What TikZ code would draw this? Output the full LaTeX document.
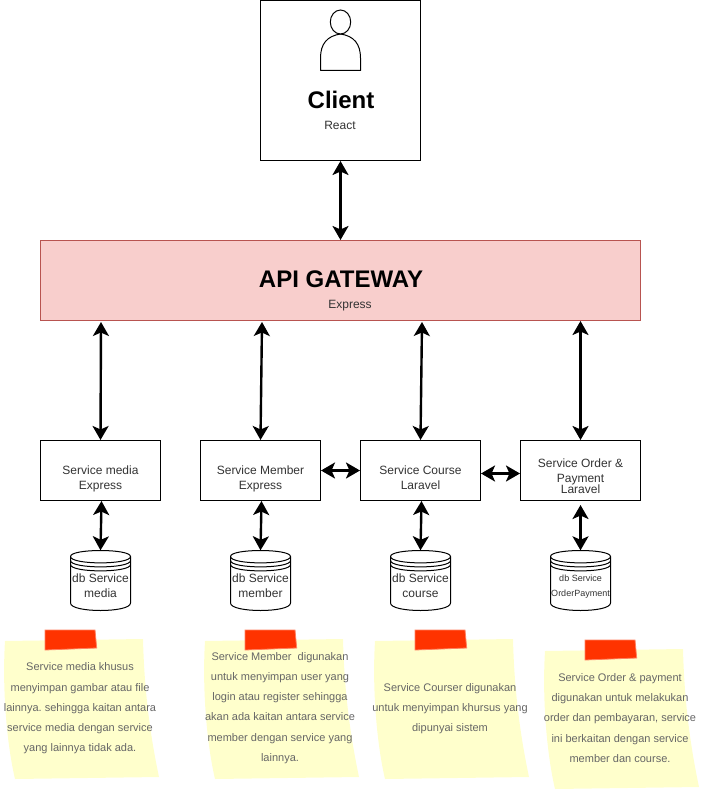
\documentclass[tikz,border=0pt]{standalone}
\usepackage{fontspec}
\setmainfont{Liberation Sans}
\usetikzlibrary{arrows.meta}
\frenchspacing
\definecolor{gwfill}{HTML}{F8CECC}
\definecolor{gwline}{HTML}{B85450}
\definecolor{notefill}{HTML}{FFFFCC}
\definecolor{tapefill}{HTML}{FF3300}
\definecolor{tapeline}{HTML}{FF8060}
\definecolor{notetxt}{HTML}{666666}
\definecolor{softtxt}{HTML}{333333}
\newcommand{\fsz}[2]{\fontsize{#1}{#2}\selectfont}
\tikzset{
  x=1pt,y=-1pt,
  boxshape/.style={draw=black,line width=1pt,fill=white,rectangle,inner sep=0pt,align=center},
  svcbox/.style={boxshape,minimum width=120pt,minimum height=60pt},
  svctext/.style={inner sep=0pt,align=center,text=softtxt,font=\fsz{12}{15}},
  dbnode/.style={inner sep=0pt,minimum width=60pt,minimum height=60pt},
  dual/.style={line width=2.4pt,{Stealth[length=14pt,width=16pt,inset=3.5pt]}-{Stealth[length=14pt,width=16pt,inset=3.5pt]}},
  notebody/.style={fill=notefill,draw=none},
  tape/.style={fill=tapefill,draw=tapeline,line width=.8pt},
  notetext/.style={inner sep=0pt,align=center,text=notetxt,font=\fsz{11}{20.25}},
}
\newcommand{\dbcyl}[1]{%
  \begin{scope}[xshift=#1pt]
  \draw[line width=1pt,fill=white,line join=round]
    (70.5,556.5) .. controls (70.5,548.5) and (130.5,548.5) .. (130.5,556.5)
    -- (130.5,603) .. controls (130.5,613) and (70.5,613) .. (70.5,603) -- cycle;
  \draw[line width=1pt] (70.5,556.5) .. controls (70.5,565) and (130.5,565) .. (130.5,556.5);
  \draw[line width=1pt] (70.5,560.5) .. controls (70.5,569) and (130.5,569) .. (130.5,560.5);
  \draw[line width=1pt] (70.5,564.5) .. controls (70.5,573) and (130.5,573) .. (130.5,564.5);
  \end{scope}}
\newcommand{\stickynote}[2]{%
  \begin{scope}[xshift=#1pt,yshift=-#2pt]
  \fill[notebody] (5,641) -- (143,639)
    .. controls (144,680) and (148,725) .. (159,777)
    -- (15,779) .. controls (7,745) and (2,690) .. (5,641) -- cycle;
  \filldraw[tape] (45,630) -- (95,630) -- (96.7,648) -- (45,650) -- cycle;
  \end{scope}}
\begin{document}
\begin{tikzpicture}
\useasboundingbox (0,0) rectangle (701,791);
% client
\node[boxshape,minimum width=160pt,minimum height=160pt] (client) at (340.5,80.5) {};
\draw[line width=1pt,fill=white,line join=round] (320.5,70.5) -- (320.5,58)
  .. controls (320.5,44) and (327,36) .. (340.5,34)
  .. controls (354,36) and (360.5,44) .. (360.5,58) -- (360.5,70.5) -- cycle;
\draw[line width=1pt,fill=white] (340.5,22) ellipse [x radius=10.2,y radius=12];
\node[inner sep=0pt,font=\fsz{24}{28}\bfseries] (clientname) at (341,99.5) {Client};
\node[svctext] (clienttech) at (340,125) {React};
% gateway
\node[rectangle,draw=gwline,fill=gwfill,line width=1pt,minimum width=600pt,minimum height=80pt,inner sep=0pt] (gw) at (340.5,280.5) {};
\node[inner sep=0pt,font=\fsz{24}{28}\bfseries] (gwname) at (341,279) {API GATEWAY};
\node[svctext] (gwtech) at (350,305.5) {Express};
% services
\node[svcbox,label={[svctext,yshift=-8pt]center:Service media\\Express}] (s1) at (100.5,470.5) {};
\node[svcbox,label={[svctext,yshift=-8pt]center:Service Member\\Express}] (s2) at (260.5,470.5) {};
\node[svcbox,label={[svctext,yshift=-7pt]center:Service Course\\Laravel}] (s3) at (420.5,470.5) {};
\node[svcbox,label={[svctext,yshift=-5.5pt]center:Service Order \&\\Payment\\[-4pt]Laravel}] (s4) at (580.5,470.5) {};
% databases
\dbcyl{0}\dbcyl{160}\dbcyl{320}\dbcyl{480}
\node[dbnode,label={[svctext,yshift=-5pt]center:db Service\\media}] (d1) at (100.5,580.5) {};
\node[dbnode,label={[svctext,yshift=-5pt]center:db Service\\member}] (d2) at (260.5,580.5) {};
\node[dbnode,label={[svctext,yshift=-5pt]center:db Service\\course}] (d3) at (420.5,580.5) {};
\node[dbnode,label={[svctext,font=\fsz{9}{15},yshift=-6pt]center:db Service\\OrderPayment}] (d4) at (580.5,580.5) {};
% ports
\coordinate (g1) at (101,322);
\coordinate (g2) at (262,322);
\coordinate (g3) at (422,322);
\coordinate (g4) at (580.5,321);
\coordinate (u1) at (101.5,501);
\coordinate (u2) at (261.5,501);
\coordinate (u3) at (421.5,501);
\coordinate (u4) at (580.5,505);
\coordinate (h34a) at (481,473.5);
\coordinate (h34b) at (520,473.5);
% connectors
\draw[dual] (client.south) -- (gw.north);
\draw[dual] (g1) -- (s1.north);
\draw[dual] (g2) -- (s2.north);
\draw[dual] (g3) -- (s3.north);
\draw[dual] (g4) -- (s4.north);
\draw[dual] (s2.east) -- (s3.west);
\draw[dual] (h34a) -- (h34b);
\draw[dual] (u1) -- (d1.north);
\draw[dual] (u2) -- (d2.north);
\draw[dual] (u3) -- (d3.north);
\draw[dual] (u4) -- (d4.north);
% notes
\stickynote{0}{0}\stickynote{200}{0}\stickynote{370}{0}\stickynote{540}{10}
\node[notetext] (n1) at (80,708.5) {Service media khusus\\menyimpan gambar atau file\\lainnya. sehingga kaitan antara\\service media dengan service\\yang lainnya tidak ada.};
\node[notetext] (n2) at (280,708) {Service Member\ \ digunakan\\untuk menyimpan user yang\\login atau register sehingga\\akan ada kaitan antara service\\member dengan service yang\\lainnya.};
\node[notetext] (n3) at (450,708.5) {Service Courser digunakan\\untuk menyimpan khursus yang\\dipunyai sistem};
\node[notetext] (n4) at (620,718) {Service Order \& payment\\digunakan untuk melakukan\\order dan pembayaran, service\\ini berkaitan dengan service\\member dan course.};
\end{tikzpicture}
\end{document}
